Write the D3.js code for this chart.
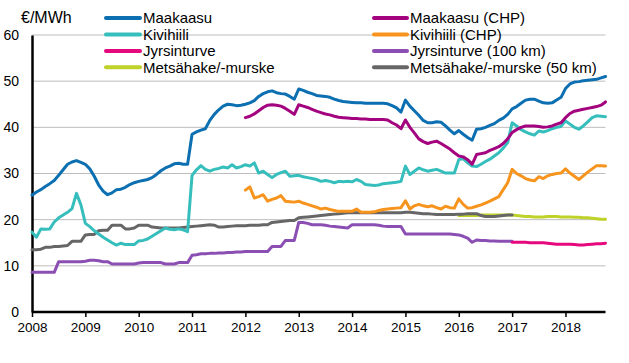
<!DOCTYPE html>
<html><head><meta charset="utf-8">
<script src="https://cdn.jsdelivr.net/npm/d3@7"></script>
<style>body{margin:0;background:#fff}svg{display:block}text{font-family:"Liberation Sans",Arial,sans-serif;fill:#000}</style>
</head><body><svg id="c" width="629" height="363"></svg>
<script>
// Monthly values; each series starts at the given [year, month]
const years = [2008,2009,2010,2011,2012,2013,2014,2015,2016,2017,2018];
const yTicks = [0,10,20,30,40,50,60];
const unitLabel = "€/MWh";

const maakaasuStart = [2008,1];
const maakaasu = [
25.3,26.0,26.5,27.2,27.8,28.5,29.6,30.8,32.0,32.5,32.8,32.4,
32.0,31.0,29.4,27.5,26.2,25.4,25.8,26.5,26.6,27.0,27.6,28.0,
28.3,28.5,28.7,29.1,29.8,30.6,31.2,31.6,32.1,32.2,32.0,32.0,
38.5,39.0,39.4,39.7,41.5,42.8,43.8,44.6,45.0,44.9,44.7,44.8,
45.0,45.3,45.8,46.7,47.3,47.7,47.9,47.5,47.3,47.2,46.7,46.1,
48.3,48.0,47.6,47.3,46.9,46.8,46.7,46.5,46.1,45.8,45.6,45.5,
45.4,45.3,45.3,45.2,45.2,45.2,45.2,45.2,45.1,44.7,44.2,43.3,
45.9,44.6,43.6,42.6,41.5,41.0,41.0,41.2,41.1,40.3,39.4,38.6,
39.3,38.5,37.8,37.2,39.6,39.7,40.0,40.4,40.8,41.5,42.0,42.8,
44.0,44.5,45.2,45.9,46.1,46.1,45.7,45.3,45.2,45.3,45.9,46.5,
48.4,49.4,49.8,49.9,50.1,50.2,50.3,50.4,50.7,51.0];

const maakaasuChpStart = [2012,1];
const maakaasuChp = [
42.1,42.4,42.9,43.6,44.3,44.8,44.9,44.8,44.6,44.1,43.5,42.8,
44.9,44.6,44.3,43.9,43.5,43.2,42.9,42.7,42.4,42.2,42.1,42.0,
41.9,41.9,41.8,41.8,41.7,41.7,41.7,41.7,41.6,41.0,40.5,39.7,
41.6,40.0,38.8,37.5,36.9,36.5,36.8,37.0,36.5,35.9,35.3,34.5,
33.8,33.6,33.0,32.0,34.1,34.3,34.5,35.0,35.4,35.8,36.5,37.5,
38.9,39.5,40.0,40.3,40.3,40.3,40.2,40.0,40.1,40.3,40.7,41.0,
42.1,43.0,43.5,43.7,43.9,44.1,44.3,44.5,44.8,45.5];

const kivihiiliStart = [2008,1];
const kivihiili = [
17.3,16.2,18.0,17.9,18.0,19.5,20.4,21.0,21.6,22.4,25.7,23.2,
19.2,18.5,17.6,16.9,16.2,15.6,15.0,14.5,14.9,14.6,14.6,14.6,
15.4,15.5,15.8,16.4,17.0,17.6,18.2,17.9,17.8,18.0,17.8,17.4,
29.6,30.8,31.7,30.9,30.5,30.9,31.1,31.4,31.2,31.9,31.2,31.5,
31.9,31.6,32.3,30.1,30.5,29.8,29.1,29.8,30.2,30.5,29.4,29.5,
29.6,29.3,29.1,28.9,28.7,28.3,28.5,28.3,28.0,28.3,28.2,28.3,
28.2,28.7,28.3,27.6,27.5,27.4,27.5,27.8,27.9,28.0,28.1,28.3,
31.6,29.8,30.5,31.2,30.8,30.5,30.7,30.9,30.5,30.1,30.1,30.1,
33.0,33.2,32.3,31.6,31.5,32.0,32.6,33.1,33.8,34.5,35.5,36.7,
41.0,40.3,39.5,39.0,38.6,38.3,39.2,39.0,39.3,39.7,40.0,40.2,
41.4,40.7,40.0,39.6,40.3,41.2,42.1,42.5,42.4,42.3];

const kivihiiliChpStart = [2012,1];
const kivihiiliChp = [
26.4,27.1,24.7,25.0,25.4,24.0,24.4,24.7,25.2,24.0,23.9,23.8,
24.0,23.6,23.3,23.0,22.7,22.3,22.5,22.2,22.0,21.8,21.8,21.8,
21.8,22.3,21.6,21.6,21.6,21.7,22.0,22.2,22.3,22.4,22.5,22.6,
24.1,22.3,23.0,23.3,23.0,22.8,23.0,22.6,22.3,22.9,22.6,22.5,
24.5,23.3,22.5,22.6,22.9,23.2,23.6,24.0,24.5,25.0,26.5,28.0,
30.9,30.0,29.5,28.9,28.6,28.4,29.3,28.9,29.5,29.8,30.0,30.1,
31.0,30.1,29.4,28.7,29.5,30.3,31.0,31.7,31.7,31.6];

const jyrsinturveStart = [2017,1];
const jyrsinturve = [
15.1,15.1,15.1,15.1,15.0,15.0,15.0,15.0,14.9,14.8,14.7,14.7,
14.7,14.7,14.6,14.5,14.5,14.6,14.7,14.8,14.8,14.9];

const jyrsinturve100Start = [2008,1];
const jyrsinturve100 = [
8.6,8.6,8.6,8.6,8.6,8.6,10.9,10.9,10.9,10.9,10.9,10.9,
11.0,11.2,11.2,11.1,10.9,10.9,10.4,10.4,10.4,10.4,10.4,10.4,
10.6,10.7,10.7,10.7,10.7,10.7,10.4,10.4,10.4,10.7,10.7,10.7,
12.3,12.4,12.6,12.6,12.7,12.7,12.8,12.8,12.9,12.9,13.0,13.0,
13.1,13.1,13.1,13.1,13.1,13.1,14.2,14.2,14.2,15.5,15.5,15.5,
19.4,19.4,19.2,18.9,18.9,18.9,18.8,18.6,18.5,18.4,18.3,18.2,
18.9,18.9,18.9,18.9,18.9,18.9,18.8,18.6,18.5,18.5,18.5,18.5,
16.9,16.9,16.9,16.9,16.9,16.9,16.9,16.9,16.9,16.9,16.9,16.8,
16.7,16.4,16.0,15.1,15.6,15.5,15.5,15.4,15.4,15.3,15.3,15.3,
15.3];

const metsahakeStart = [2016,1];
const metsahake = [
20.9,20.9,20.9,20.9,20.9,21.0,21.0,21.0,21.0,21.0,21.0,21.0,
21.0,20.9,20.8,20.7,20.7,20.6,20.6,20.6,20.7,20.7,20.7,20.6,
20.6,20.6,20.5,20.5,20.4,20.4,20.3,20.2,20.1,20.1];

const metsahake50Start = [2008,1];
const metsahake50 = [
13.5,13.5,13.6,14.0,14.0,14.2,14.2,14.3,14.4,15.3,15.3,15.3,
16.7,16.8,16.8,17.6,17.7,17.7,18.8,18.8,18.8,18.0,18.0,18.2,
18.8,18.8,18.8,18.4,18.3,18.2,18.2,18.2,18.2,18.2,18.3,18.4,
18.5,18.6,18.7,18.8,18.9,18.8,18.4,18.4,18.5,18.6,18.7,18.7,
18.7,18.8,18.8,18.8,18.9,18.9,19.4,19.5,19.6,19.7,19.8,19.8,
20.4,20.5,20.6,20.7,20.8,20.9,21.0,21.1,21.2,21.3,21.4,21.5,
21.5,21.5,21.5,21.5,21.5,21.5,21.5,21.5,21.5,21.5,21.5,21.5,
21.6,21.6,21.5,21.4,21.3,21.3,21.2,21.1,21.1,21.1,21.1,21.1,
21.2,21.2,21.3,21.3,21.3,20.9,20.7,20.7,20.7,20.8,20.9,21.0,
21.0];

const seriesNames = ["Maakaasu","Maakaasu (CHP)","Kivihiili","Kivihiili (CHP)","Jyrsinturve","Jyrsinturve (100 km)","Metsähake/-murske","Metsähake/-murske (50 km)"];
const seriesColors = ["#0b6fb1","#a4037f","#36bebd","#f7941d","#e6097e","#8b4fb4","#bfd22a","#666666"];
const seriesValues = [maakaasu,maakaasuChp,kivihiili,kivihiiliChp,jyrsinturve,jyrsinturve100,metsahake,metsahake50];
const seriesStarts = [maakaasuStart,maakaasuChpStart,kivihiiliStart,kivihiiliChpStart,jyrsinturveStart,jyrsinturve100Start,metsahakeStart,metsahake50Start];
// drawing order (back to front)
const drawOrder = [6,7,5,4,3,2,1,0];

const svg = d3.select("#c");
const L = 32, R = 605.5, T = 35, B = 312;
const x = d3.scaleLinear().domain([2008, 2018.75]).range([L, R]);
const y = d3.scaleLinear().domain([0, 60]).range([B, T]);

// gridlines
svg.append("g").selectAll("line").data(yTicks.filter(d => d > 0)).join("line")
  .attr("x1", L).attr("x2", R).attr("y1", d => y(d)).attr("y2", d => y(d))
  .attr("stroke", "#bdbdbd").attr("stroke-width", 1);

// y axis
const ya = svg.append("g").attr("transform", `translate(${L},0)`)
  .call(d3.axisLeft(y).tickValues(yTicks).tickSize(0).tickPadding(13).tickFormat(d3.format("d")));
ya.select(".domain").attr("stroke", "#000").attr("stroke-width", 2.5);
ya.selectAll("text").attr("font-size", "14px").attr("font-family", "Liberation Sans, Arial, sans-serif");

// lines
const line = d3.line().x(d => x(d.t)).y(d => y(d.v));
drawOrder.forEach(k => {
  const [sy, sm] = seriesStarts[k];
  const pts = seriesValues[k].map((v, i) => ({t: sy + (sm - 1 + i) / 12, v}));
  svg.append("path").datum(pts).attr("d", line)
    .attr("fill", "none").attr("stroke", seriesColors[k])
    .attr("stroke-width", 3).attr("stroke-linejoin", "round").attr("stroke-linecap", "round");
});

// x axis
const xa = svg.append("g").attr("transform", `translate(0,${B})`)
  .call(d3.axisBottom(x).tickValues(years).tickSize(5).tickPadding(5).tickFormat(d3.format("d")));
xa.select(".domain").attr("stroke", "#000").attr("stroke-width", 2.5).attr("d", `M${L},0H${R}`);
xa.selectAll(".tick line").attr("stroke", "#000").attr("stroke-width", 1.5);
xa.selectAll("text").attr("font-size", "13.5px").attr("font-family", "Liberation Sans, Arial, sans-serif");

// unit label
svg.append("text").attr("x", 21).attr("y", 23).attr("font-size", "16px").text(unitLabel);

// legend
const legCols = [[106, 143], [374, 410]];
const legRows = [18, 34.5, 51, 67.3];
const legOrder = [0,2,4,6,1,3,5,7];
legOrder.forEach((k, j) => {
  const c = Math.floor(j / 4), r = j % 4;
  const g = svg.append("g");
  g.append("line").attr("x1", legCols[c][0]).attr("x2", legCols[c][1] - 3)
    .attr("y1", legRows[r]).attr("y2", legRows[r])
    .attr("stroke", seriesColors[k]).attr("stroke-width", 4).attr("stroke-linecap", "round");
  g.append("text").attr("x", legCols[c][1]).attr("y", legRows[r]).attr("dy", "0.35em")
    .attr("font-size", "15px").text(seriesNames[k]);
});
</script></body></html>
